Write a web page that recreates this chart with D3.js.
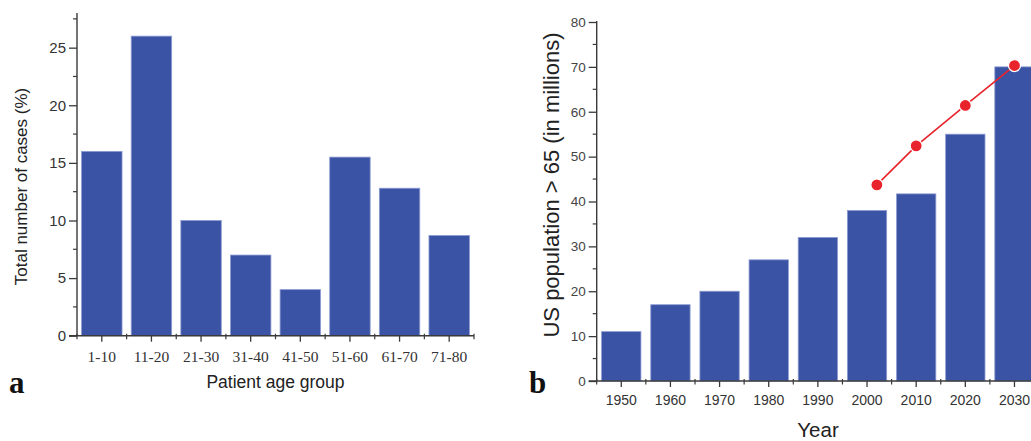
<!DOCTYPE html>
<html>
<head>
<meta charset="utf-8">
<script src="https://cdn.jsdelivr.net/npm/d3@7"></script>
<style>
  html, body { margin: 0; padding: 0; background: #fff; }
  svg { display: block; }
</style>
</head>
<body>
<svg id="chart" width="1031" height="441"></svg>
<script>
// ---- Data ----
const ageGroups = ["1-10", "11-20", "21-30", "31-40", "41-50", "51-60", "61-70", "71-80"];
const casePct = [16, 26, 10, 7, 4, 15.5, 12.8, 8.7];
const leftYTicks = [0, 5, 10, 15, 20, 25];

const years = ["1950", "1960", "1970", "1980", "1990", "2000", "2010", "2020", "2030"];
const popOver65 = [11, 17, 20, 27, 32, 38, 41.7, 55, 70];
const projYears = [2002, 2010, 2020, 2030];
const projValues = [43.7, 52.4, 61.4, 70.3];
const rightYTicks = [0, 10, 20, 30, 40, 50, 60, 70, 80];

const BAR = "#3a53a4", BAR_EDGE = "#8d9bd2", AXIS = "#3a3a3a", RED = "#e8232b";
const svg = d3.select("#chart");

// ---------- Panel a ----------
{
  const x0 = 77, x1 = 474, yBottom = 335.7, yTop = 13.1;
  const x = d3.scaleBand().domain(ageGroups).range([x0, x1]).paddingInner(0.185).paddingOuter(0.0925);
  const y = d3.scaleLinear().domain([0, 28]).range([yBottom, yTop]);
  const g = svg.append("g");

  g.selectAll("rect.bar").data(ageGroups).join("rect")
    .attr("class", "bar")
    .attr("x", d => x(d)).attr("width", x.bandwidth())
    .attr("y", (d, i) => y(casePct[i])).attr("height", (d, i) => y(0) - y(casePct[i]))
    .attr("fill", BAR).attr("stroke", BAR_EDGE).attr("stroke-width", 0.8);

  const yAx = g.append("g").attr("transform", `translate(${x0},0)`)
    .call(d3.axisLeft(y).tickValues(leftYTicks).tickSize(8).tickPadding(3).tickSizeOuter(0));
  yAx.select(".domain").attr("d", `M0,${yTop}V${yBottom}`).attr("stroke", AXIS).attr("stroke-width", 1.4);
  yAx.selectAll(".tick line").attr("stroke", AXIS).attr("stroke-width", 1.3);
  yAx.selectAll(".tick text").attr("font-family", "Liberation Sans, Arial, sans-serif").attr("font-size", 15).attr("fill", "#333");
  const yMinor = d3.range(2.5, 28, 5);
  g.append("g").selectAll("line").data(yMinor).join("line")
    .attr("x1", x0 - 4).attr("x2", x0).attr("y1", d => y(d)).attr("y2", d => y(d))
    .attr("stroke", AXIS).attr("stroke-width", 1.2);

  const xAx = g.append("g").attr("transform", `translate(0,${yBottom})`)
    .call(d3.axisBottom(x).tickSize(6).tickPadding(9).tickSizeOuter(0));
  xAx.select(".domain").attr("d", `M${x0 - 8},0H${x1}`).attr("stroke", AXIS).attr("stroke-width", 1.4);
  xAx.selectAll(".tick line").attr("stroke", AXIS).attr("stroke-width", 1.3);
  xAx.selectAll(".tick text").attr("font-family", "Liberation Serif, Times New Roman, serif").attr("font-size", 15.5).attr("fill", "#333");
  const step = x.step();
  const xMinor = d3.range(0, ageGroups.length + 1).map(i => x0 + i * step);
  g.append("g").selectAll("line").data(xMinor).join("line")
    .attr("x1", d => d).attr("x2", d => d).attr("y1", yBottom - 2).attr("y2", yBottom + 3.5)
    .attr("stroke", AXIS).attr("stroke-width", 1.2);

  g.append("text").attr("transform", "translate(27,186.5) rotate(-90)")
    .attr("text-anchor", "middle").attr("font-family", "Liberation Sans, Arial, sans-serif")
    .attr("font-size", 17).attr("fill", "#222").text("Total number of cases (%)");
  g.append("text").attr("x", 275.5).attr("y", 388).attr("text-anchor", "middle")
    .attr("font-family", "Liberation Sans, Arial, sans-serif").attr("font-size", 17.5).attr("fill", "#222")
    .text("Patient age group");
  g.append("text").attr("x", 9).attr("y", 393).attr("font-family", "Liberation Serif, Times New Roman, serif")
    .attr("font-weight", "bold").attr("font-size", 31).attr("fill", "#111").text("a");
}

// ---------- Panel b ----------
{
  const x0 = 596.7, stepW = 49.15, yBottom = 381, yTop = 22;
  const x1 = x0 + stepW * years.length;
  const x = d3.scaleBand().domain(years).range([x0, x1]).paddingInner(0.2).paddingOuter(0.1);
  const xYear = d3.scaleLinear().domain([1945, 1945 + 10 * years.length]).range([x0, x1]);
  const y = d3.scaleLinear().domain([0, 80]).range([yBottom, yTop]);
  const g = svg.append("g");

  g.selectAll("rect.bar").data(years).join("rect")
    .attr("class", "bar")
    .attr("x", d => x(d)).attr("width", x.bandwidth())
    .attr("y", (d, i) => y(popOver65[i])).attr("height", (d, i) => y(0) - y(popOver65[i]))
    .attr("fill", BAR).attr("stroke", BAR_EDGE).attr("stroke-width", 0.8);

  const yAx = g.append("g").attr("transform", `translate(${x0},0)`)
    .call(d3.axisLeft(y).tickValues(rightYTicks).tickSize(8).tickPadding(3).tickSizeOuter(0));
  yAx.select(".domain").attr("d", `M0,${yTop - 1}V${yBottom}`).attr("stroke", AXIS).attr("stroke-width", 1.4);
  yAx.selectAll(".tick line").attr("stroke", AXIS).attr("stroke-width", 1.3);
  yAx.selectAll(".tick text").attr("font-family", "Liberation Sans, Arial, sans-serif").attr("font-size", 13.5).attr("fill", "#444");
  g.append("g").selectAll("line").data(d3.range(5, 80, 10)).join("line")
    .attr("x1", x0 - 4).attr("x2", x0).attr("y1", d => y(d)).attr("y2", d => y(d))
    .attr("stroke", AXIS).attr("stroke-width", 1.2);

  const xAx = g.append("g").attr("transform", `translate(0,${yBottom})`)
    .call(d3.axisBottom(x).tickSize(6).tickPadding(8).tickSizeOuter(0));
  xAx.select(".domain").attr("d", `M${x0 - 8},0H${x1}`).attr("stroke", AXIS).attr("stroke-width", 1.4);
  xAx.selectAll(".tick line").attr("stroke", AXIS).attr("stroke-width", 1.3);
  xAx.selectAll(".tick text").attr("font-family", "Liberation Sans, Arial, sans-serif").attr("font-size", 14).attr("fill", "#333");
  g.append("g").selectAll("line").data(d3.range(0, years.length + 1).map(i => x0 + i * stepW)).join("line")
    .attr("x1", d => d).attr("x2", d => d).attr("y1", yBottom - 2).attr("y2", yBottom + 3.5)
    .attr("stroke", AXIS).attr("stroke-width", 1.2);

  const pts = projYears.map((yr, i) => [xYear(yr), y(projValues[i])]);
  g.append("path").attr("d", d3.line()(pts)).attr("fill", "none").attr("stroke", RED).attr("stroke-width", 1.6);
  g.selectAll("circle.pt").data(pts).join("circle").attr("class", "pt")
    .attr("cx", d => d[0]).attr("cy", d => d[1]).attr("r", 6)
    .attr("fill", RED).attr("stroke", "#fff").attr("stroke-width", 1.2);

  g.append("text").attr("transform", "translate(559,185) rotate(-90)")
    .attr("text-anchor", "middle").attr("font-family", "Liberation Sans, Arial, sans-serif")
    .attr("font-size", 22).attr("fill", "#222").text("US population > 65 (in millions)");
  g.append("text").attr("x", 818).attr("y", 436.5).attr("text-anchor", "middle")
    .attr("font-family", "Liberation Sans, Arial, sans-serif").attr("font-size", 20.5).attr("fill", "#222")
    .text("Year");
  g.append("text").attr("x", 529).attr("y", 393).attr("font-family", "Liberation Serif, Times New Roman, serif")
    .attr("font-weight", "bold").attr("font-size", 31).attr("fill", "#111").text("b");
}
</script>
</body>
</html>
